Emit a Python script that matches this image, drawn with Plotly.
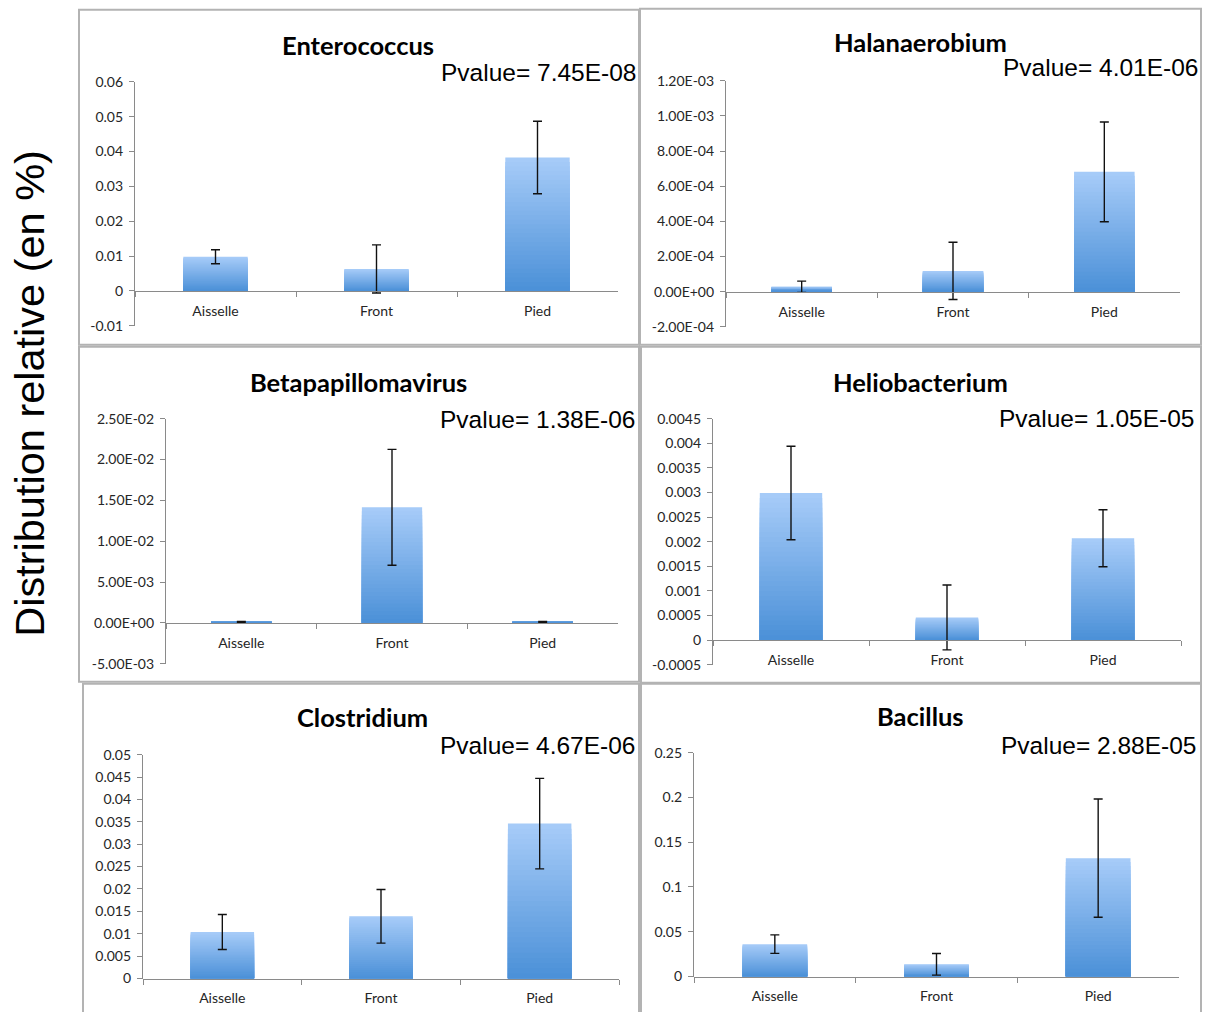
import plotly.graph_objects as go

W, H = 1207, 1012

# ---------------- data ----------------
categories = ["Aisselle", "Front", "Pied"]

genera = ["Enterococcus", "Halanaerobium", "Betapapillomavirus",
          "Heliobacterium", "Clostridium", "Bacillus"]

pvalues = ["7.45E-08", "4.01E-06", "1.38E-06", "1.05E-05", "4.67E-06", "2.88E-05"]

enterococcus_mean = [0.0098, 0.0063, 0.0383]
enterococcus_err = [0.0020, 0.0069, 0.0104]

halanaerobium_mean = [0.000028, 0.000118, 0.000682]
halanaerobium_err = [0.000032, 0.000163, 0.000284]

betapapillomavirus_mean = [0.00012, 0.01415, 0.00012]
betapapillomavirus_err = [0.00005, 0.00710, 0.00005]

heliobacterium_mean = [0.00299, 0.00046, 0.00207]
heliobacterium_err = [0.00095, 0.00066, 0.00058]

clostridium_mean = [0.0104, 0.0139, 0.0346]
clostridium_err = [0.0039, 0.0060, 0.0101]

bacillus_mean = [0.0362, 0.0137, 0.1322]
bacillus_err = [0.0103, 0.0121, 0.0660]

means = [enterococcus_mean, halanaerobium_mean, betapapillomavirus_mean,
         heliobacterium_mean, clostridium_mean, bacillus_mean]
errors = [enterococcus_err, halanaerobium_err, betapapillomavirus_err,
          heliobacterium_err, clostridium_err, bacillus_err]

enterococcus_ticks = [-0.01, 0, 0.01, 0.02, 0.03, 0.04, 0.05, 0.06]
enterococcus_ticktext = ["-0.01", "0", "0.01", "0.02", "0.03", "0.04", "0.05", "0.06"]
halanaerobium_ticks = [-2e-4, 0, 2e-4, 4e-4, 6e-4, 8e-4, 1e-3, 1.2e-3]
halanaerobium_ticktext = ["-2.00E-04", "0.00E+00", "2.00E-04", "4.00E-04",
                          "6.00E-04", "8.00E-04", "1.00E-03", "1.20E-03"]
betapapillomavirus_ticks = [-5e-3, 0, 5e-3, 1e-2, 1.5e-2, 2e-2, 2.5e-2]
betapapillomavirus_ticktext = ["-5.00E-03", "0.00E+00", "5.00E-03", "1.00E-02",
                               "1.50E-02", "2.00E-02", "2.50E-02"]
heliobacterium_ticks = [-0.0005, 0, 0.0005, 0.001, 0.0015, 0.002, 0.0025,
                        0.003, 0.0035, 0.004, 0.0045]
heliobacterium_ticktext = ["-0.0005", "0", "0.0005", "0.001", "0.0015", "0.002",
                           "0.0025", "0.003", "0.0035", "0.004", "0.0045"]
clostridium_ticks = [0, 0.005, 0.01, 0.015, 0.02, 0.025, 0.03, 0.035, 0.04, 0.045, 0.05]
clostridium_ticktext = ["0", "0.005", "0.01", "0.015", "0.02", "0.025", "0.03",
                        "0.035", "0.04", "0.045", "0.05"]
bacillus_ticks = [0, 0.05, 0.1, 0.15, 0.2, 0.25]
bacillus_ticktext = ["0", "0.05", "0.1", "0.15", "0.2", "0.25"]

tickvals = [enterococcus_ticks, halanaerobium_ticks, betapapillomavirus_ticks,
            heliobacterium_ticks, clostridium_ticks, bacillus_ticks]
ticktexts = [enterococcus_ticktext, halanaerobium_ticktext, betapapillomavirus_ticktext,
             heliobacterium_ticktext, clostridium_ticktext, bacillus_ticktext]

y_title = "Distribution relative (en %)"

# ---------------- layout geometry (target pixels in the picture) ----------------
plot_px = [
    (135, 618, 81, 325),
    (726, 1180, 80, 326),
    (166, 618, 418, 663),
    (713, 1181, 418, 664),
    (143, 619, 754, 978),
    (694, 1179, 752, 976),
]
panel_px = [
    (79, 9, 639, 344),
    (640, 8, 1201, 344),
    (79, 346, 639, 681),
    (641, 346, 1201, 682),
    (83, 683, 639, 1014),
    (641, 683, 1201, 1014),
]
title_pos = [(358, 44), (920, 41), (358, 381), (920, 381), (362, 716), (920, 715)]
pval_pos = [(638, 72), (1200, 67), (637, 419), (1196, 418), (637, 745), (1198, 745)]

# vertical calibration of the rendering surface (observed offset / scale)
Y_OFF = 8.15
Y_SCALE = 0.9835


def px_x(p):
    return p / W


def px_y(p):
    return 1 - ((p - Y_OFF) / Y_SCALE) / H


LIGHT = (166, 203, 248)
DARK = (76, 145, 216)
N = 30
AXIS_COLOR = "#8a8a8a"
TICK_FONT = dict(family="Lato", size=14, color="#262626")

fig = go.Figure()

for i in range(6):
    xa = "x" if i == 0 else f"x{i+1}"
    ya = "y" if i == 0 else f"y{i+1}"
    m = means[i]
    e = errors[i]
    # gradient: overlaid bars of decreasing height, light on top -> dark at bottom
    for k in range(N):
        t = k / (N - 1)
        c = tuple(int(round(LIGHT[j] + (DARK[j] - LIGHT[j]) * t)) for j in range(3))
        fig.add_trace(go.Bar(
            x=categories, y=[v * (N - k) / N for v in m],
            marker=dict(color=f"rgb{c}", line=dict(width=0)),
            width=0.4, xaxis=xa, yaxis=ya, showlegend=False, hoverinfo="skip",
        ))
    fig.add_trace(go.Scatter(
        x=categories, y=m, mode="markers",
        marker=dict(size=1, opacity=0),
        error_y=dict(type="data", array=e, visible=True, color="#111111",
                     thickness=1.4, width=4.5),
        xaxis=xa, yaxis=ya, showlegend=False,
    ))

layout = dict(
    width=W, height=H,
    margin=dict(l=0, r=0, t=0, b=0),
    paper_bgcolor="white", plot_bgcolor="white",
    barmode="overlay",
    showlegend=False,
    annotations=[], shapes=[],
)

for i in range(6):
    x0, x1, yt, yb = plot_px[i]
    rng = [tickvals[i][0], tickvals[i][-1]]
    dom_y = [px_y(yb), px_y(yt)]
    zero_pos = dom_y[0] + (0 - rng[0]) / (rng[1] - rng[0]) * (dom_y[1] - dom_y[0])
    xk = "xaxis" if i == 0 else f"xaxis{i+1}"
    yk = "yaxis" if i == 0 else f"yaxis{i+1}"
    xa = "x" if i == 0 else f"x{i+1}"
    layout[xk] = dict(
        type="category", domain=[px_x(x0), px_x(x1)], range=[-0.5, 2.5],
        anchor="free", position=zero_pos,
        showline=True, linecolor=AXIS_COLOR, linewidth=1.2,
        ticks="outside", tickson="boundaries", ticklen=5, tickcolor=AXIS_COLOR,
        showgrid=False, zeroline=False, tickfont=TICK_FONT, ticklabelstandoff=7,
        fixedrange=True,
    )
    layout[yk] = dict(
        domain=dom_y, range=rng, anchor=xa,
        tickvals=tickvals[i], ticktext=ticktexts[i],
        showline=True, linecolor=AXIS_COLOR, linewidth=1.2,
        ticks="outside", ticklen=5, tickcolor=AXIS_COLOR,
        showgrid=False, zeroline=False, tickfont=TICK_FONT, ticklabelstandoff=3,
        fixedrange=True,
    )
    px0, py0, px1, py1 = panel_px[i]
    layout["shapes"].append(dict(
        type="rect", xref="paper", yref="paper",
        x0=px_x(px0), x1=px_x(px1), y0=px_y(py1), y1=px_y(py0),
        line=dict(color="#b3b3b3", width=2), fillcolor="rgba(0,0,0,0)", layer="below",
    ))
    tx, ty = title_pos[i]
    layout["annotations"].append(dict(
        text=f"<b>{genera[i]}</b>", x=px_x(tx), y=px_y(ty), xref="paper", yref="paper",
        xanchor="center", yanchor="middle", showarrow=False,
        font=dict(family="Lato", size=25.5, color="black"),
    ))
    vx, vy = pval_pos[i]
    layout["annotations"].append(dict(
        text=f"Pvalue= {pvalues[i]}", x=px_x(vx), y=px_y(vy), xref="paper", yref="paper",
        xanchor="right", yanchor="middle", showarrow=False,
        font=dict(family="Liberation Sans", size=24.5, color="black"),
    ))

layout["annotations"].append(dict(
    text=y_title, x=px_x(30), y=px_y(393), xref="paper", yref="paper",
    xanchor="center", yanchor="middle", textangle=-90, showarrow=False,
    font=dict(family="Liberation Sans", size=41.5, color="black"),
))

fig.update_layout(**layout)
fig.write_html(
    "out.html",
    config={"displayModeBar": False},
    post_script=(
        "document.documentElement.style.margin='0';"
        "document.body.style.margin='0';document.body.style.overflow='hidden';"
        "var gd=document.getElementById('{plot_id}');"
        "gd.style.position='absolute';gd.style.top='0px';gd.style.left='0px';"
    ),
)
